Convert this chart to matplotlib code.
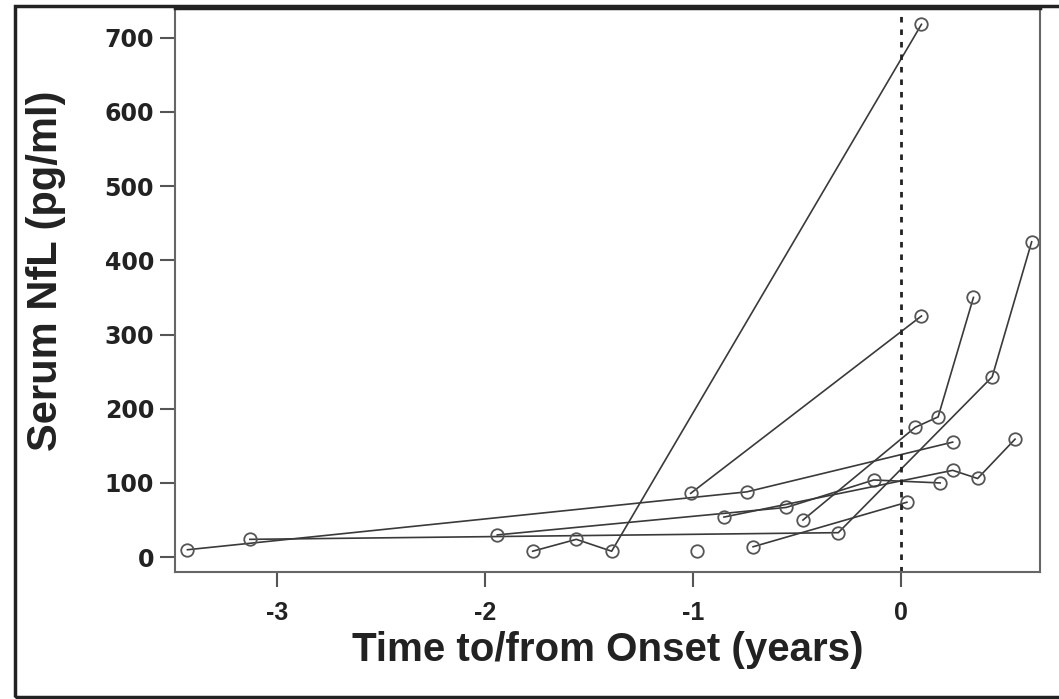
import matplotlib
matplotlib.use("Agg")
import matplotlib.pyplot as plt
from matplotlib.patches import Rectangle

# Serum NfL trajectories, one list pair per subject (years to/from onset, pg/ml)
s1_t = [-3.43, -0.74, 0.25]
s1_v = [10, 88, 155]
s2_t = [-3.13, -0.30, 0.44, 0.63]
s2_v = [24, 33, 243, 425]
s3_t = [-1.94, -0.55, -0.13, 0.19]
s3_v = [30, 67, 104, 100]
s4_t = [-1.77, -1.56, -1.39, 0.10]
s4_v = [8, 24, 8, 718]
s5_t = [-1.01, 0.10]
s5_v = [86, 325]
s6_t = [-0.98]
s6_v = [8]
s7_t = [-0.85, 0.25, 0.37, 0.55]
s7_v = [54, 117, 106, 159]
s8_t = [-0.47, 0.07, 0.18, 0.35]
s8_v = [50, 175, 189, 350]
s9_t = [-0.71, 0.03]
s9_v = [14, 74]

subjects = [(s1_t, s1_v), (s2_t, s2_v), (s3_t, s3_v), (s4_t, s4_v), (s5_t, s5_v),
            (s6_t, s6_v), (s7_t, s7_v), (s8_t, s8_v), (s9_t, s9_v)]

x_ticks = [-3, -2, -1, 0]
y_ticks = [0, 100, 200, 300, 400, 500, 600, 700]

W, H = 1059, 699
fig = plt.figure(figsize=(W / 100, H / 100), dpi=100)
ax = fig.add_axes([175 / W, (H - 572) / H, (1040 - 175) / W, (572 - 8) / H])

for t, v in subjects:
    ax.plot(t, v, color="#3a3a3a", lw=1.2, marker="o", markersize=9,
            markerfacecolor="none", markeredgecolor="#555555", markeredgewidth=1.3)

ax.axvline(0, color="#222222", lw=2, linestyle=(0, (2, 2.5)))

ax.set_xlim(-3.49, 0.67)
ax.set_ylim(-20, 740)
ax.set_xticks(x_ticks)
ax.set_yticks(y_ticks)
ax.set_xticklabels([str(v) for v in x_ticks], fontfamily="Liberation Sans",
                   fontweight="bold", fontsize=18, color="#222222")
ax.set_yticklabels([str(v) for v in y_ticks], fontfamily="DejaVu Sans",
                   fontweight="bold", fontsize=17, color="#222222")
ax.tick_params(axis="both", direction="out", length=11, width=1.5, color="#555555")
ax.tick_params(axis="x", pad=10)
ax.tick_params(axis="y", pad=4)

for sp in ax.spines.values():
    sp.set_color("#666666")
    sp.set_linewidth(1.5)
ax.spines["top"].set_color("#222222")
ax.spines["top"].set_linewidth(2.5)

ax.set_ylabel("Serum NfL (pg/ml)", fontfamily="Liberation Sans", fontweight="bold",
              fontsize=30, color="#222222")
ax.yaxis.set_label_coords(-(175 - 66) / (1040 - 175), 0.535)
ax.set_xlabel("Time to/from Onset (years)", fontfamily="Liberation Sans",
              fontweight="bold", fontsize=29, color="#222222")
ax.xaxis.set_label_coords(0.5, -(650 - 572) / (572 - 8))
ax.xaxis.label.set_verticalalignment("center")

# outer frame around the whole panel
fig.patches.append(Rectangle((15 / W, 2 / H), 1.2, (H - 8) / H, transform=fig.transFigure,
                             fill=False, lw=2.5, ec="#222222"))

plt.savefig("out.png", dpi=100)
